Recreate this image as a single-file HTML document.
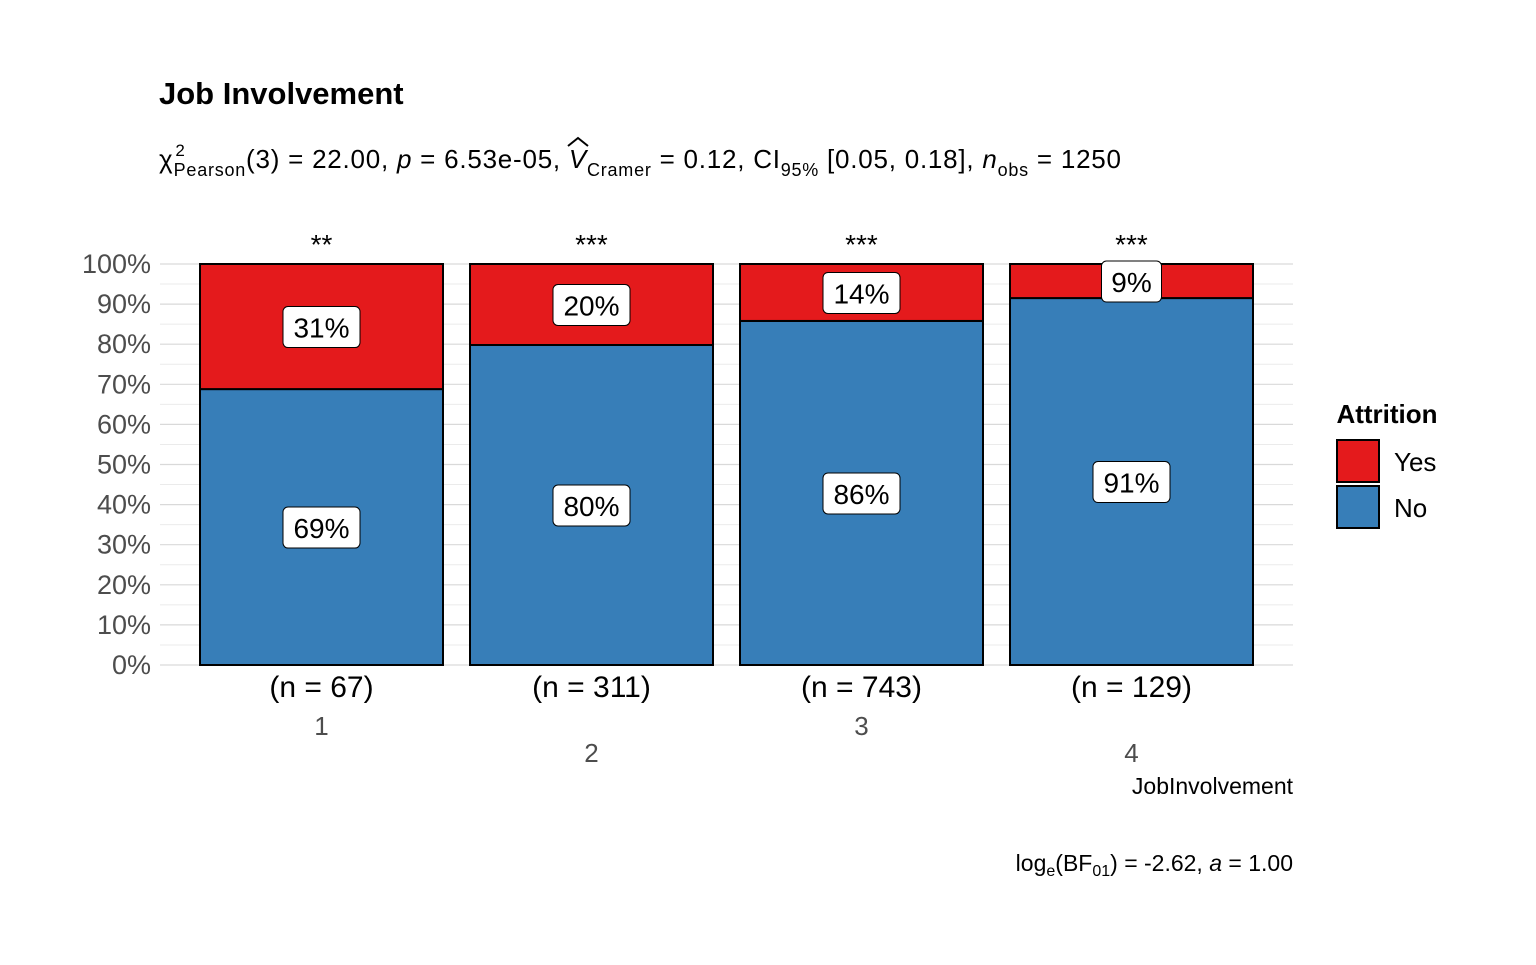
<!DOCTYPE html>
<html><head><meta charset="utf-8"><style>
body{margin:0;background:#fff;width:1536px;height:960px;overflow:hidden;font-family:"Liberation Sans",sans-serif}
</style></head><body>
<svg width="1536" height="960" font-family="Liberation Sans, sans-serif">
<text x="159" y="104" font-size="31" font-weight="bold">Job Involvement</text>
<text x="159" y="168" font-size="26" textLength="962" lengthAdjust="spacing">χ<tspan font-size="17" dy="-12" dx="2">2</tspan><tspan font-size="18" dy="20" dx="-12">Pearson</tspan><tspan dy="-8">(3) = 22.00, </tspan><tspan font-style="italic">p</tspan><tspan> = 6.53e-05, </tspan><tspan font-style="italic">V</tspan><tspan font-size="18" dy="8">Cramer</tspan><tspan dy="-8"> = 0.12, CI</tspan><tspan font-size="18" dy="8">95%</tspan><tspan dy="-8"> [0.05, 0.18], </tspan><tspan font-style="italic">n</tspan><tspan font-size="18" dy="8">obs</tspan><tspan dy="-8"> = 1250</tspan></text>
<path d="M568 146 L578 138 L588 146" fill="none" stroke="#000" stroke-width="2"/>
<g id="grid"></g><g id="bars"></g><g id="labels"></g>
<text x="1387" y="423" font-size="26" font-weight="bold" text-anchor="middle">Attrition</text>
<rect x="1337" y="440" width="42" height="42" fill="#E41A1C" stroke="#000" stroke-width="2"/>
<text x="1394" y="471" font-size="26">Yes</text>
<rect x="1337" y="486" width="42" height="42" fill="#377EB8" stroke="#000" stroke-width="2"/>
<text x="1394" y="517" font-size="26">No</text>
<text x="1293" y="794" font-size="23" text-anchor="end">JobInvolvement</text>
<text x="1293" y="871" font-size="23" text-anchor="end">log<tspan font-size="16" dy="5">e</tspan><tspan dy="-5">(BF</tspan><tspan font-size="16" dy="5">01</tspan><tspan dy="-5">) = -2.62, </tspan><tspan font-style="italic">a</tspan> = 1.00</text>
</svg>
<script>
const categories=["1","2","3","4"];
const yesPct=[31.2,20.2,14.2,8.5];
const yesLabels=["31%","20%","14%","9%"];
const noLabels=["69%","80%","86%","91%"];
const nLabels=["(n = 67)","(n = 311)","(n = 743)","(n = 129)"];
const sigLabels=["**","***","***","***"];
const yTicks=[0,10,20,30,40,50,60,70,80,90,100];
const NS="http://www.w3.org/2000/svg";
const y=v=>665-v*4.01;
const xc=i=>321.5+i*270;
function mk(tag,attrs,parent,txt){const e=document.createElementNS(NS,tag);for(const k in attrs)e.setAttribute(k,attrs[k]);if(txt!=null)e.textContent=txt;parent.appendChild(e);return e;}
const grid=document.getElementById('grid'),bars=document.getElementById('bars'),labels=document.getElementById('labels');
for(let v=5;v<100;v+=10){const l=mk('line',{x1:160,x2:1293,y1:y(v),y2:y(v),stroke:'#ebebeb','stroke-width':1},grid);

}
yTicks.forEach(v=>{const l=mk('line',{x1:160,x2:1293,y1:y(v),y2:y(v),stroke:'#d9d9d9','stroke-width':1.2},grid);


const t=mk('text',{x:151,y:y(v)+9,'font-size':27,fill:'#4d4d4d','text-anchor':'end'},grid,v+'%');

});
function lab(cx,cy,txt,name){const w=txt.length*17+26;const r=mk('rect',{x:cx-w/2,y:cy-20,width:w,height:41,rx:5,fill:'#fff',stroke:'#000','stroke-width':1},labels);


const t=mk('text',{x:cx,y:cy+11,'font-size':28,'text-anchor':'middle'},labels,txt);

}
categories.forEach((c,i)=>{const x0=xc(i)-121.5,yes=yesPct[i];
const b1=mk('rect',{x:x0,y:y(100-yes),width:243,height:y(0)-y(100-yes),fill:'#377EB8',stroke:'#000','stroke-width':2},bars);


const b2=mk('rect',{x:x0,y:y(100),width:243,height:y(100-yes)-y(100),fill:'#E41A1C',stroke:'#000','stroke-width':2},bars);


lab(xc(i),y(100-yes/2),yesLabels[i],'yes-label');
lab(xc(i),y((100-yes)/2),noLabels[i],'no-label');
const s=mk('text',{x:xc(i),y:254,'font-size':28,'text-anchor':'middle'},labels,sigLabels[i]);


const n=mk('text',{x:xc(i),y:697,'font-size':30,'text-anchor':'middle'},labels,nLabels[i]);


const t=mk('text',{x:xc(i),y:i%2?762:735,'font-size':26,fill:'#4d4d4d','text-anchor':'middle'},labels,c);

});
</script>
</body></html>
